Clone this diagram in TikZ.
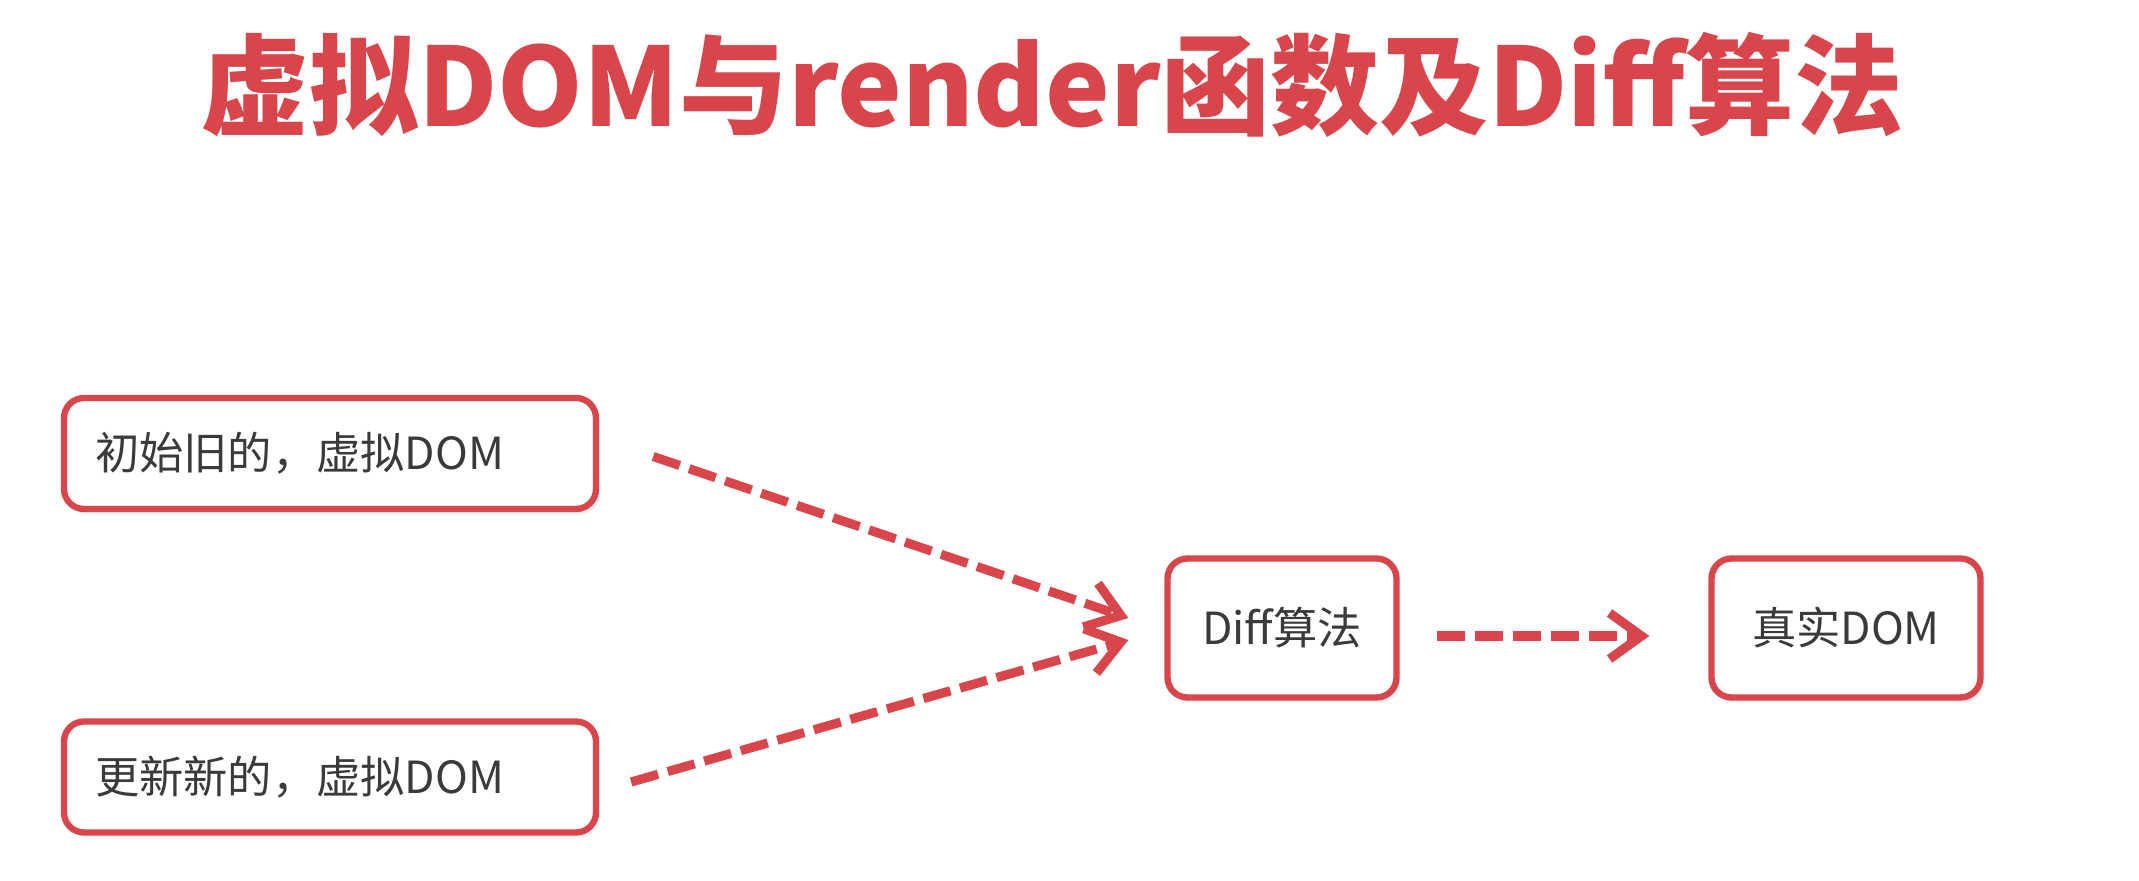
\documentclass[tikz,border=0pt]{standalone}
\usepackage{fontspec}
\setmainfont{Noto Sans CJK SC}
\usepackage{xcolor}
\usetikzlibrary{arrows.meta, positioning, shadows}
\definecolor{slidered}{HTML}{D8464B}
\definecolor{slidetext}{HTML}{3A3A3A}

\begin{document}
\begin{tikzpicture}[
    block/.style={rectangle, draw=slidered, line width=1.8pt, fill=white, rounded corners=0.2cm,
        text=slidetext, font=\fontsize{12.6}{15}\selectfont,
        drop shadow={shadow xshift=0.04cm, shadow yshift=-0.05cm, opacity=0.12}},
    wideblock/.style={block, minimum height=1.11cm, text width=4.70cm, inner xsep=0.31cm, align=left},
    smallblock/.style={block, minimum height=1.39cm, align=center},
    dasharrow/.style={-{Straight Barb[length=3.2mm, width=4.6mm, line width=2.6pt]}, line width=2.6pt,
        draw=slidered, dash pattern=on 0.28cm off 0.1cm},
    titletext/.style={font=\fontsize{31}{37}\selectfont\bfseries, text=slidered}
    ]
    \useasboundingbox (0,0) rectangle (21.39,8.81);
    % --- Title ---
    \node[titletext] (title) at (10.52,7.96) {虚拟DOM与render函数及Diff算法};
    
    % --- Left: old and new virtual DOM ---
    \node[wideblock] (old) at (3.30,4.275) {初始旧的，虚拟DOM};
    \node[wideblock] (new) at (3.30,1.04) {更新新的，虚拟DOM};
    
    % --- Right: Diff and real DOM ---
    \node[smallblock, minimum width=2.29cm] (diff) at (12.82,2.53) {Diff算法};
    \node[smallblock, minimum width=2.69cm] (real) at (18.46,2.53) {真实DOM};
    
    % --- Dashed connectors ---
    \draw[dasharrow] ([xshift=0.54cm, yshift=-0.03cm]old.east) -- ([xshift=-0.36cm, yshift=0.10cm]diff.west);
    \draw[dasharrow] ([xshift=0.32cm, yshift=-0.05cm]new.east) -- ([xshift=-0.36cm, yshift=-0.12cm]diff.west);
    \draw[dasharrow] ([xshift=0.37cm, yshift=-0.08cm]diff.east) -- ([xshift=-0.59cm, yshift=-0.08cm]real.west);
\end{tikzpicture}
\end{document}
